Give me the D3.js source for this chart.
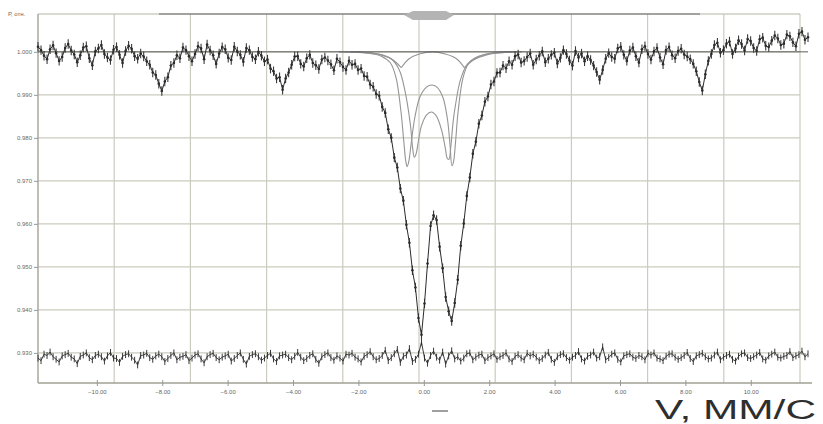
<!DOCTYPE html>
<html><head><meta charset="utf-8">
<script src="https://cdn.jsdelivr.net/npm/d3@7"></script>
<style>
html,body{margin:0;padding:0;background:#fff;}
svg{display:block;font-family:"Liberation Sans",Arial,sans-serif;}
</style></head>
<body><svg id="chart" width="823" height="424"></svg>
<script>
// ---- data ----
// velocity calibration of the channels (mm/s)
const vStart = -11.8, vEnd = 11.75;
// measured relative transmission, one value per channel
const transmission = [
1.0012,1.0004,0.9991,0.9983,1.0006,1.0015,0.9997,0.9979,0.9988,1.0009,
1.0018,1.0003,0.9994,0.9976,0.9992,1.0010,1.0013,0.9985,0.9969,1.0001,
1.0008,1.0016,0.9995,0.9987,0.9981,1.0005,1.0011,0.9993,0.9974,1.0002,
1.0014,1.0007,0.9990,0.9984,0.9996,0.9989,0.9978,0.9970,0.9952,0.9946,
0.9926,0.9909,0.9931,0.9941,0.9968,0.9974,0.9992,0.9985,1.0010,1.0004,
0.9990,0.9978,0.9995,1.0013,1.0008,0.9983,1.0017,1.0003,0.9992,0.9972,
0.9996,1.0011,1.0006,0.9986,0.9981,1.0012,1.0001,0.9993,0.9977,1.0009,
1.0004,0.9988,0.9983,1.0000,0.9991,0.9978,0.9982,0.9961,0.9955,0.9938,
0.9941,0.9912,0.9938,0.9952,0.9970,0.9989,0.9990,0.9972,0.9966,0.9985,
0.9993,0.9974,0.9969,0.9960,0.9982,0.9987,0.9980,0.9971,0.9957,0.9984,
0.9976,0.9965,0.9958,0.9979,0.9970,0.9972,0.9958,0.9961,0.9944,0.9942,
0.9924,0.9919,0.9902,0.9898,0.9872,0.9858,0.9820,0.9800,0.9754,0.9731,
0.9682,0.9654,0.9598,0.9556,0.9492,0.9452,0.9381,0.9342,0.9415,0.9508,
0.9595,0.9620,0.9609,0.9547,0.9497,0.9430,0.9397,0.9374,0.9416,0.9470,
0.9549,0.9601,0.9665,0.9708,0.9763,0.9791,0.9833,0.9852,0.9884,0.9896,
0.9924,0.9931,0.9951,0.9952,0.9968,0.9962,0.9978,0.9970,0.9990,0.9994,
0.9975,0.9979,0.9988,0.9996,0.9970,0.9982,0.9991,1.0001,0.9976,0.9984,
0.9993,0.9998,0.9973,0.9986,1.0004,0.9995,0.9980,0.9968,1.0002,0.9987,
0.9996,0.9978,0.9990,0.9981,0.9968,0.9953,0.9935,0.9958,0.9984,0.9997,
0.9988,0.9984,1.0008,1.0012,0.9993,0.9979,1.0003,1.0010,0.9990,0.9975,
1.0006,1.0013,0.9995,0.9982,1.0001,1.0009,0.9987,0.9971,1.0004,1.0011,
0.9992,0.9985,1.0002,1.0007,0.9994,0.9989,0.9983,0.9972,0.9955,0.9930,
0.9910,0.9948,0.9979,0.9995,1.0016,1.0021,0.9998,1.0004,1.0019,1.0024,
0.9995,1.0008,1.0027,1.0018,1.0003,1.0030,1.0025,1.0009,1.0002,1.0029,
1.0033,1.0014,1.0011,1.0026,1.0038,1.0031,1.0016,1.0019,1.0040,1.0036,
1.0022,1.0013,1.0042,1.0047,1.0028,1.0034
];
// residual (measured - fit), in units of 1e-4 of transmission
const residual = [
-12,-18,-3,-6,2,-9,-15,-21,-7,-4,-1,-10,-14,-25,-8,-5,0,-11,-16,-6,
-3,-9,-19,-7,1,-12,-13,-22,-8,-4,-2,-10,-17,-28,-6,-5,-1,-11,-15,-7,
-3,-9,-20,-13,-6,0,-16,-10,-8,-4,-18,-12,-5,-2,-14,-23,-9,-4,-1,-11,
-16,-10,-7,-3,-19,-13,-6,0,-15,-26,-8,-4,-2,-9,-17,-12,-6,-1,-14,-20,
-7,-5,-3,-11,-16,-8,1,-10,-18,-13,-6,-2,-15,-24,-9,-4,0,-11,-17,-7,
-12,-19,-3,-5,-1,-10,-14,-21,-8,-4,3,-9,-16,-13,-6,6,-18,-11,-2,8,
-22,-8,-5,10,-20,-15,-3,25,-12,-24,-6,4,-10,-17,2,-26,-7,5,-14,-9,
-19,-12,-2,0,-16,-10,-5,-3,-18,-11,-7,-2,-15,-9,-6,0,-14,-20,-8,-4,
-12,-16,-1,-7,-3,-10,-18,-13,-5,1,-15,-22,-9,-4,-2,-11,-17,-10,-6,3,
-14,-19,-8,-5,2,-12,-9,14,-16,-11,-3,0,-15,-21,-7,-4,-2,-10,-13,-6,
-9,-16,-1,-5,0,-12,-14,-18,-8,-3,-2,-10,-15,-11,-6,1,-13,-20,-7,-4,
-1,-9,-14,-12,-5,2,-16,-10,-6,-3,-15,-19,-8,-2,0,-11,-13,-9,-5,1,
-14,-17,-7,-3,2,-10,-12,-8,-6,3,-11,-7,-4,4,-9,-2
];
const residualLevel = 0.930;
// fitted sub-spectra, read as [velocity, transmission] points
const doubletA = [[-2.6,1.0000],[-1.7,0.9997],[-1.3,0.9990],[-1.02,0.9974],[-0.85,0.9940],[-0.70,0.9862],[-0.61,0.9790],[-0.55,0.9745],[-0.51,0.9733],[-0.46,0.9745],[-0.39,0.9785],[-0.28,0.9845],[-0.12,0.9895],[0.08,0.9918],[0.24,0.9923],[0.40,0.9918],[0.58,0.9895],[0.72,0.9845],[0.80,0.9785],[0.86,0.9735],[0.91,0.9745],[0.97,0.9790],[1.05,0.9862],[1.20,0.9940],[1.38,0.9974],[1.68,0.9990],[2.1,0.9997],[3.0,1.0000]];
const doubletB = [[-2.23,1.0000],[-1.37,0.9995],[-1.00,0.9984],[-0.75,0.9958],[-0.57,0.9907],[-0.41,0.9830],[-0.34,0.9775],[-0.29,0.9755],[-0.24,0.9762],[-0.16,0.9795],[-0.08,0.9826],[0.08,0.9853],[0.23,0.9860],[0.38,0.9851],[0.54,0.9819],[0.66,0.9775],[0.72,0.9752],[0.77,0.9750],[0.82,0.9775],[0.90,0.9840],[0.97,0.9877],[1.12,0.9935],[1.34,0.9972],[1.64,0.9988],[2.14,0.9998],[2.84,1.0000]];
const arcLeft = [[-2.07,1.0000],[-1.31,0.9993],[-0.94,0.9981],[-0.69,0.9963]];
const arcTop = [[-0.69,0.9963],[-0.45,0.9984],[-0.14,0.9995],[0.26,1.0000],[0.66,0.9995],[1.00,0.9984],[1.24,0.9963]];
const arcRight = [[1.24,0.9963],[1.52,0.9981],[1.92,0.9993],[2.69,1.0000]];
const baselineFit = [[-11.8,1.0],[11.75,1.0]];
// axis ticks
const xTicks = [-10,-8,-6,-4,-2,0,2,4,6,8,10];
const yTicks = [1.000,0.990,0.980,0.970,0.960,0.950,0.940,0.930];
const yLabel = "Р, отн.";
const xLabel = "V, ММ/С";

// ---- drawing ----
const svg = d3.select("#chart");
const L = 38, R = 800, T = 14, B = 383;
const x = d3.scaleLinear().domain([vStart, vEnd]).range([L, 808]);
const y = d3.scaleLinear().domain([0.923, 1.0088]).range([B, T]);
const paper = d3.scaleLinear().domain([0, 10]).range([L, R]);

const gridC = "#cbcbbf";
svg.append("g").selectAll("line").data(d3.range(1, 11)).join("line")
  .attr("x1", d => paper(d)).attr("x2", d => paper(d))
  .attr("y1", T).attr("y2", B)
  .attr("stroke", gridC).attr("stroke-width", 1.2);
svg.append("g").selectAll("line").data(yTicks).join("line")
  .attr("x1", L).attr("x2", R)
  .attr("y1", d => y(d)).attr("y2", d => y(d))
  .attr("stroke", gridC).attr("stroke-width", 1.2);
svg.append("line").attr("x1", L).attr("x2", R).attr("y1", T).attr("y2", T)
  .attr("stroke", "#b5b5a8").attr("stroke-width", 1.2);
svg.append("line").attr("x1", L).attr("x2", L).attr("y1", T).attr("y2", B)
  .attr("stroke", "#a8a89c").attr("stroke-width", 1.5);

// top range bar
svg.append("line").attr("x1", 159).attr("x2", 700).attr("y1", 14).attr("y2", 14)
  .attr("stroke", "#6a6a6a").attr("stroke-width", 1.2);
svg.append("path").attr("d", "M404,15 L413,11 L446,11 L454,15 L446,20 L413,20 Z")
  .attr("fill", "#b4b4b4");

// left axis
const ya = svg.append("g").attr("transform", `translate(${L},0)`)
  .call(d3.axisLeft(y).tickValues(yTicks).tickFormat(d3.format(".3f")).tickSize(4));
ya.select(".domain").remove();
ya.selectAll("line").attr("stroke", "#999");
ya.selectAll("text").attr("font-size", 6).attr("fill", "#666").attr("x", -6);

// bottom axis
const xa = svg.append("g").attr("transform", `translate(0,${B})`)
  .call(d3.axisBottom(x).tickValues(xTicks).tickFormat(d3.format(".2f")).tickSize(3));
xa.select(".domain").attr("d", `M${L},0H812`).attr("stroke", "#a0a094").attr("stroke-width", 1.5);
xa.selectAll(".tick line").attr("stroke", "#999").attr("y1", -3);
xa.selectAll("text").attr("font-size", 6).attr("fill", "#666").attr("dy", "0.9em");

svg.append("text").attr("x", 8).attr("y", 16).attr("font-size", 6).attr("fill", "#666").text(yLabel);

// fitted components
const smooth = d3.line().x(d => x(d[0])).y(d => y(d[1])).curve(d3.curveCatmullRom.alpha(0.5));
const fitG = svg.append("g").attr("fill", "none").attr("stroke", "#959595").attr("stroke-width", 1.1);
[doubletA, doubletB, arcLeft, arcTop, arcRight].forEach(c => fitG.append("path").attr("d", smooth(c)));
svg.append("path").attr("d", d3.line().x(d => x(d[0])).y(d => y(d[1]))(baselineFit))
  .attr("fill", "none").attr("stroke", "#4a4a4a").attr("stroke-width", 0.9);

// measured spectrum with error bars
const step = (vEnd - vStart) / (transmission.length - 1);
const spec = transmission.map((t, i) => ({v: vStart + i * step, t}));
const err = 0.0011;
svg.append("g").selectAll("line").data(spec).join("line")
  .attr("x1", d => x(d.v)).attr("x2", d => x(d.v))
  .attr("y1", d => y(d.t + err)).attr("y2", d => y(d.t - err))
  .attr("stroke", "#3a3a3a").attr("stroke-width", 1.1);
svg.append("path").datum(spec)
  .attr("d", d3.line().x(d => x(d.v)).y(d => y(d.t)))
  .attr("fill", "none").attr("stroke", "#2b2b2b").attr("stroke-width", 1);
svg.append("g").selectAll("circle").data(spec).join("circle")
  .attr("cx", d => x(d.v)).attr("cy", d => y(d.t)).attr("r", 1.3).attr("fill", "#2b2b2b");

// residual
const rstep = (vEnd - vStart) / (residual.length - 1);
const res = residual.map((r, i) => ({v: vStart + i * rstep, t: residualLevel + r * 1e-4}));
svg.append("g").selectAll("line").data(res).join("line")
  .attr("x1", d => x(d.v)).attr("x2", d => x(d.v))
  .attr("y1", d => y(d.t + 0.0008)).attr("y2", d => y(d.t - 0.0008))
  .attr("stroke", "#3a3a3a").attr("stroke-width", 1);
svg.append("path").datum(res)
  .attr("d", d3.line().x(d => x(d.v)).y(d => y(d.t)))
  .attr("fill", "none").attr("stroke", "#2b2b2b").attr("stroke-width", 0.9);

// small mark under the axis
svg.append("line").attr("x1", 432).attr("x2", 448).attr("y1", 411).attr("y2", 411)
  .attr("stroke", "#a0a0a0").attr("stroke-width", 2);

// axis title
svg.append("text").attr("x", 655).attr("y", 419).attr("font-size", 27).attr("fill", "#2e2e2e")
  .attr("textLength", 161).attr("lengthAdjust", "spacingAndGlyphs").text(xLabel);
</script></body></html>
